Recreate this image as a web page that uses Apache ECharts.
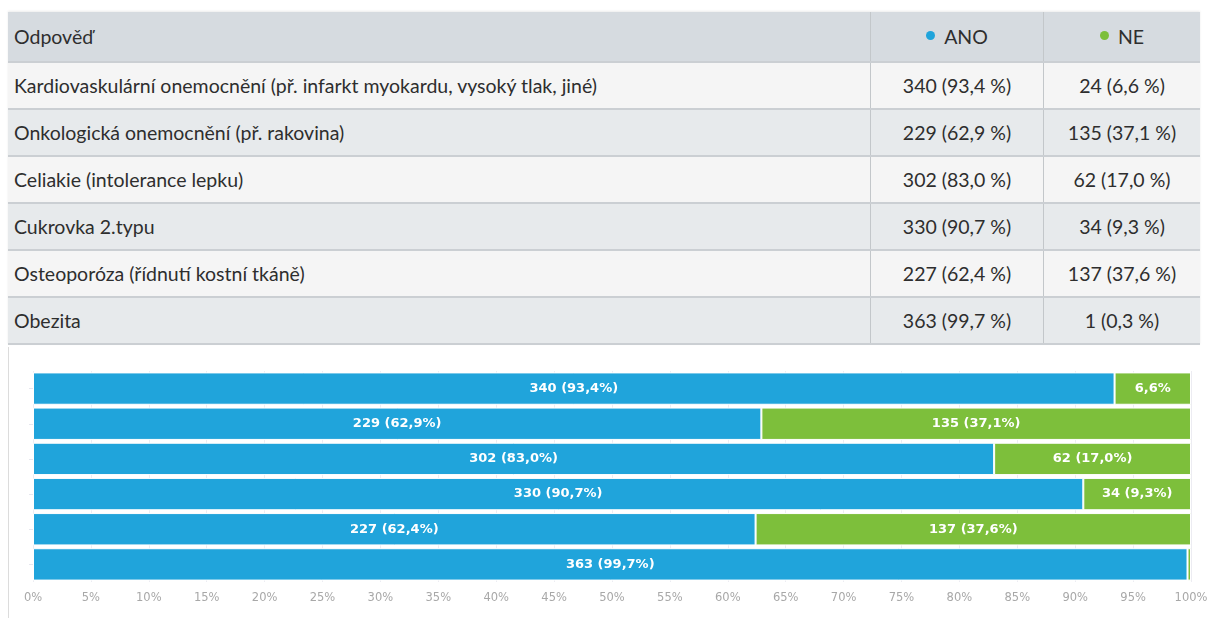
<!DOCTYPE html>
<html lang="cs">
<head>
<meta charset="utf-8">
<title>Odpovědi</title>
<script src="https://cdn.jsdelivr.net/npm/echarts@6/dist/echarts.min.js"></script>
<style>
  html, body { margin: 0; padding: 0; background: #fff; }
  body { width: 1207px; height: 618px; position: relative; overflow: hidden; font-family: "Lato", sans-serif; }
  #tbl {
    position: absolute; left: 8px; top: 12px; width: 1192px;
    border-collapse: collapse; color: #2e2e2e; font-size: 19.5px;
    box-shadow: 0 -1px 2px rgba(0,0,0,0.08);
  }
  #tbl th, #tbl td { padding: 0 6px; height: 45px; border-bottom: 2px solid #cbcfd3; white-space: nowrap; }
  #tbl th { background: #d6dbe0; font-weight: normal; height: 49px; text-align: center; }
  #tbl th:first-child, #tbl td:first-child { text-align: left; }
  #tbl td { text-align: center; }
  #tbl tr:nth-child(odd) td { background: #f5f5f5; }
  #tbl tr:nth-child(even) td { background: #e7eaec; }
  #tbl .c1 { width: 850px; }
  #tbl .c2 { width: 160px; border-left: 1px solid #c3c7ca; }
  #tbl .c3 { border-left: 1px solid #c3c7ca; }
  .dot { display: inline-block; width: 9px; height: 9px; border-radius: 50%; margin-right: 9px; vertical-align: 4px; }
  #chart { position: absolute; left: 8px; top: 347px; width: 1199px; height: 271px; border-left: 1px solid #dcdcdc; box-sizing: border-box; }
</style>
</head>
<body>
<table id="tbl"><thead></thead><tbody></tbody></table>
<div id="chart"></div>
<script>
// Odpovědi na otázku (ANO / NE), počty respondentů a podíly v procentech
const headerLabel = 'Odpověď';
const seriesNames = ['ANO', 'NE'];
const seriesColors = ['#20a4db', '#7dbf3b'];
const categories = [
  'Kardiovaskulární onemocnění (př. infarkt myokardu, vysoký tlak, jiné)',
  'Onkologická onemocnění (př. rakovina)',
  'Celiakie (intolerance lepku)',
  'Cukrovka 2.typu',
  'Osteoporóza (řídnutí kostní tkáně)',
  'Obezita'
];
const anoCounts = [340, 229, 302, 330, 227, 363];
const anoPct = [93.4, 62.9, 83.0, 90.7, 62.4, 99.7];
const neCounts = [24, 135, 62, 34, 137, 1];
const nePct = [6.6, 37.1, 17.0, 9.3, 37.6, 0.3];
const xTickStep = 5;

const fmt = v => v.toFixed(1).replace('.', ',');

// Tabulka nad grafem
const thead = document.querySelector('#tbl thead');
const tbody = document.querySelector('#tbl tbody');
thead.innerHTML = '<tr><th class="c1">' + headerLabel + '</th>' +
  seriesNames.map((n, i) => '<th class="c' + (i + 2) + '"><span class="dot" style="background:' + seriesColors[i] + '"></span>' + n + '</th>').join('') +
  '</tr>';
tbody.innerHTML = categories.map((c, i) =>
  '<tr><td class="c1">' + c + '</td>' +
  '<td class="c2">' + anoCounts[i] + ' (' + fmt(anoPct[i]) + ' %)</td>' +
  '<td class="c3">' + neCounts[i] + ' (' + fmt(nePct[i]) + ' %)</td></tr>'
).join('');

// Popisek segmentu: úzké segmenty jen procento, velmi úzké bez popisku
function labelFor(counts, pcts) {
  return p => {
    const i = p.dataIndex, v = pcts[i];
    if (v < 2) return '';
    if (v < 8) return fmt(v) + '%';
    return counts[i] + ' (' + fmt(v) + '%)';
  };
}

const labelStyle = { show: true, position: 'inside', color: '#fff', fontSize: 13, fontWeight: 'bold', fontFamily: 'DejaVu Sans' };

const chart = echarts.init(document.getElementById('chart'));
chart.setOption({
  animation: false,
  grid: { left: 24, right: 16, top: 24, bottom: 36, outerBoundsMode: 'none', containLabel: false },
  xAxis: {
    type: 'value', min: 0, max: 100, interval: xTickStep,
    axisLine: { show: false }, axisTick: { show: false },
    splitLine: { lineStyle: { color: '#ececf2', width: 1 } },
    axisLabel: { formatter: '{value}%', color: '#a8a8a8', fontSize: 11.5, fontFamily: 'DejaVu Sans', margin: 10 }
  },
  yAxis: {
    type: 'category', data: categories, inverse: true,
    axisLine: { show: false },
    axisTick: { show: true, alignWithLabel: true, length: 4, lineStyle: { color: '#e6e6ee' } },
    axisLabel: { show: false }
  },
  series: [
    {
      name: seriesNames[0], type: 'bar', stack: 'total', data: anoPct,
      barCategoryGap: '8%',
      itemStyle: { color: seriesColors[0], borderColor: '#fff', borderWidth: 1 },
      label: Object.assign({ formatter: labelFor(anoCounts, anoPct) }, labelStyle)
    },
    {
      name: seriesNames[1], type: 'bar', stack: 'total', data: nePct,
      itemStyle: { color: seriesColors[1], borderColor: '#fff', borderWidth: 1 },
      label: Object.assign({ formatter: labelFor(neCounts, nePct) }, labelStyle)
    }
  ]
});
</script>
</body>
</html>
